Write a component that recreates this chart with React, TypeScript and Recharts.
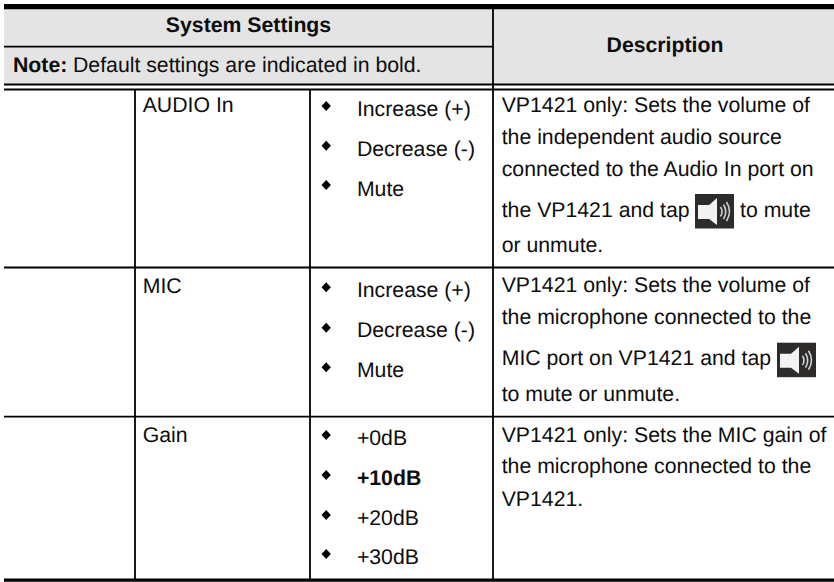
import {
  ComposedChart,
  XAxis,
  YAxis,
  Scatter,
  ReferenceArea,
  ReferenceLine,
} from "recharts";

const WIDTH = 834;
const HEIGHT = 582;
const FONT = "'Liberation Sans', Arial, sans-serif";
const INK = "#0d0d0d";

// table text
const headerLabels = ["System Settings", "Description"];
const noteLabels = ["Note:", "Default settings are indicated in bold."];
const settingNames = ["AUDIO In", "MIC", "Gain"];
const optionLabels = [
  "Increase (+)",
  "Decrease (-)",
  "Mute",
  "Increase (+)",
  "Decrease (-)",
  "Mute",
  "+0dB",
  "+10dB",
  "+20dB",
  "+30dB",
];
const defaultOptions = ["+10dB"];
const descriptionLines = [
  "VP1421 only: Sets the volume of",
  "the independent audio source",
  "connected to the Audio In port on",
  "the VP1421 and tap",
  "or unmute.",
  "VP1421 only: Sets the volume of",
  "the microphone connected to the",
  "MIC port on VP1421 and tap",
  "to mute or unmute.",
  "VP1421 only: Sets the MIC gain of",
  "the microphone connected to the",
  "VP1421.",
];
const afterIconLabels = ["to mute"];

// layout, in page pixels
const settingBaselines = [111.7, 292.7, 442];
const optionBaselines = [116, 155.7, 195.7, 296.7, 337, 376.7, 445, 485, 525, 564];
const bulletCenters = [106, 145.7, 185, 287.3, 327.7, 367.3, 435, 475, 515, 554];
const descriptionBaselines = [111.7, 143.5, 175.7, 216.7, 252.3, 292.3, 324, 365, 401, 441.7, 473.3, 506];
const iconLefts = [695, 777];
const iconTops = [194, 342.7];

const verticalRules = [
  { x: 135, y1: 90, y2: 580 },
  { x: 310, y1: 90, y2: 580 },
  { x: 493, y1: 9, y2: 580 },
];
const horizontalRules = [
  { y: 6.6, x1: 4, x2: 834, w: 5.4 },
  { y: 46.7, x1: 4, x2: 493, w: 1.8 },
  { y: 84.5, x1: 4, x2: 834, w: 1.8 },
  { y: 89.5, x1: 4, x2: 834, w: 1.8 },
  { y: 267.5, x1: 4, x2: 834, w: 1.8 },
  { y: 416.7, x1: 4, x2: 834, w: 1.8 },
  { y: 580.2, x1: 4, x2: 834, w: 3.2 },
];

const textRows = [
  { x: 248.5, y: 32.3, text: headerLabels[0], bold: true, anchor: "middle" },
  { x: 665, y: 52, text: headerLabels[1], bold: true, anchor: "middle" },
  { x: 13, y: 71.5, text: noteLabels[0], bold: true, anchor: "start" },
  { x: 73, y: 71.5, text: noteLabels[1], bold: false, anchor: "start" },
  ...settingNames.map((text, i) => ({
    x: 142.7,
    y: settingBaselines[i],
    text,
    bold: false,
    anchor: "start",
  })),
  ...optionLabels.map((text, i) => ({
    x: 356.9,
    y: optionBaselines[i],
    text,
    bold: defaultOptions.includes(text),
    anchor: "start",
  })),
  ...descriptionLines.map((text, i) => ({
    x: 501.7,
    y: descriptionBaselines[i],
    text,
    bold: false,
    anchor: "start",
  })),
  { x: 740, y: descriptionBaselines[3], text: afterIconLabels[0], bold: false, anchor: "start" },
];

const bulletRows = bulletCenters.map((y) => ({ x: 326.2, y }));
const iconRows = iconLefts.map((x, i) => ({ x, y: iconTops[i] }));

function TextMark(props: any) {
  const { cx, cy, payload } = props;
  return (
    <text
      x={cx}
      y={cy}
      textAnchor={payload.anchor}
      fontFamily={FONT}
      fontSize={21.25}
      fontWeight={payload.bold ? 700 : 400}
      fill={INK}
      textRendering="geometricPrecision"
    >
      {payload.text}
    </text>
  );
}

function BulletMark(props: any) {
  const { cx, cy } = props;
  return <path d={`M${cx} ${cy - 5}L${cx + 4.7} ${cy}L${cx} ${cy + 5}L${cx - 4.7} ${cy}Z`} fill="#000" />;
}

// little speaker button, drawn from its top left corner
function SpeakerMark(props: any) {
  const { cx, cy } = props;
  return (
    <g transform={`translate(${cx} ${cy})`}>
      <rect width={39} height={34.5} fill="#2e2c2b" />
      <path d="M3 11H14L22 4V31L14 25H3Z" fill="#f2f2f2" />
      <g fill="none" stroke="#cfcfcf" strokeWidth={1.6}>
        <path d="M25.5 13Q28.5 17.5 25.5 22.5" />
        <path d="M28.5 10.5Q33 17.5 28.5 25" />
        <path d="M31.5 8Q37.5 17.5 31.5 27" />
      </g>
    </g>
  );
}

export default function App() {
  return (
    <div style={{ position: "fixed", left: 0, top: 0, width: WIDTH, height: HEIGHT, background: "#fff" }}>
      <ComposedChart width={WIDTH} height={HEIGHT} margin={{ top: 0, right: 0, bottom: 0, left: 0 }}>
        <XAxis type="number" dataKey="x" domain={[0, WIDTH]} hide />
        <YAxis type="number" dataKey="y" domain={[0, HEIGHT]} reversed hide />
        <ReferenceArea x1={4} x2={WIDTH} y1={9} y2={84} fill="#e4e4e4" fillOpacity={1} stroke="none" />
        {horizontalRules.map((r) => (
          <ReferenceLine
            key={r.y}
            segment={[
              { x: r.x1, y: r.y },
              { x: r.x2, y: r.y },
            ]}
            stroke="#000"
            strokeWidth={r.w}
          />
        ))}
        {verticalRules.map((r) => (
          <ReferenceLine
            key={r.x}
            segment={[
              { x: r.x, y: r.y1 },
              { x: r.x, y: r.y2 },
            ]}
            stroke="#000"
            strokeWidth={1.8}
          />
        ))}
        <Scatter data={textRows} shape={TextMark} isAnimationActive={false} />
        <Scatter data={bulletRows} shape={BulletMark} isAnimationActive={false} />
        <Scatter data={iconRows} shape={SpeakerMark} isAnimationActive={false} />
      </ComposedChart>
    </div>
  );
}
